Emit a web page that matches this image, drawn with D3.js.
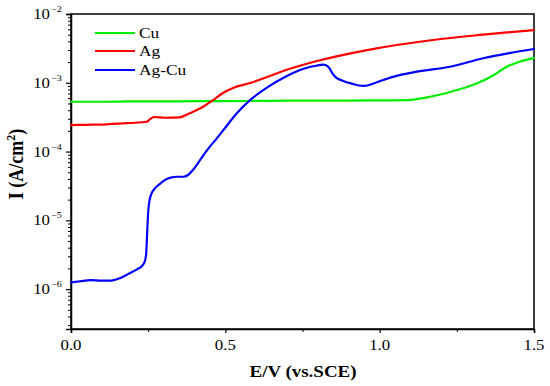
<!DOCTYPE html>
<html>
<head>
<meta charset="utf-8">
<script src="https://cdn.jsdelivr.net/npm/d3@7"></script>
<style>
body { margin: 0; background: #fff; }
svg { display: block; }
text { font-family: "Liberation Serif", "Times New Roman", serif; fill: #000; }
</style>
</head>
<body>
<svg id="chart" width="550" height="386"></svg>
<script>
// ---- data ----
const seriesNames = ["Cu", "Ag", "Ag-Cu"];
const seriesColors = ["#00ee00", "#ff0000", "#0000ff"];

const cuE = [0.0, 0.1, 0.2, 0.3, 0.4, 0.5, 0.6, 0.7, 0.8, 0.9, 1.0, 1.09, 1.15, 1.2, 1.24, 1.28, 1.32, 1.37, 1.41, 1.45, 1.5];
const cuI = [5.3e-4, 5.3e-4, 5.35e-4, 5.35e-4, 5.4e-4, 5.4e-4, 5.45e-4, 5.5e-4, 5.5e-4, 5.5e-4, 5.55e-4, 5.6e-4, 6.1e-4, 6.8e-4, 7.6e-4, 8.6e-4, 1.0e-3, 1.3e-3, 1.7e-3, 2.0e-3, 2.3e-3];

const agE = [0.0, 0.05, 0.1, 0.19, 0.246, 0.256, 0.269, 0.305, 0.353, 0.386, 0.428, 0.46, 0.492, 0.525, 0.58, 0.635, 0.687, 0.797, 0.959, 1.173, 1.335, 1.5];
const agI = [2.43e-4, 2.45e-4, 2.47e-4, 2.6e-4, 2.71e-4, 2.97e-4, 3.18e-4, 3.1e-4, 3.15e-4, 3.63e-4, 4.49e-4, 5.61e-4, 7.1e-4, 8.4e-4, 9.9e-4, 1.21e-3, 1.48e-3, 2.07e-3, 2.99e-3, 4.19e-3, 5.0e-3, 5.85e-3];

const agcuE = [0.0, 0.03, 0.062, 0.1, 0.13, 0.16, 0.19, 0.215, 0.233, 0.24, 0.244, 0.247, 0.25, 0.254, 0.26, 0.27, 0.285, 0.3, 0.32, 0.345, 0.365, 0.38, 0.395, 0.418, 0.441, 0.473, 0.499, 0.538, 0.58, 0.635, 0.687, 0.742, 0.77, 0.797, 0.816, 0.826, 0.836, 0.848, 0.86, 0.88, 0.91, 0.946, 0.97, 1.0, 1.043, 1.121, 1.228, 1.335, 1.42, 1.5];
const agcuI = [1.25e-6, 1.3e-6, 1.35e-6, 1.33e-6, 1.33e-6, 1.45e-6, 1.7e-6, 1.95e-6, 2.25e-6, 2.6e-6, 3.5e-6, 7e-6, 1.3e-5, 1.9e-5, 2.4e-5, 2.85e-5, 3.3e-5, 3.75e-5, 4.15e-5, 4.3e-5, 4.3e-5, 4.6e-5, 5.4e-5, 7.5e-5, 1.05e-4, 1.57e-4, 2.2e-4, 3.63e-4, 5.6e-4, 8.5e-4, 1.17e-3, 1.53e-3, 1.68e-3, 1.78e-3, 1.84e-3, 1.8e-3, 1.65e-3, 1.35e-3, 1.18e-3, 1.07e-3, 9.7e-4, 9.0e-4, 9.4e-4, 1.05e-3, 1.22e-3, 1.45e-3, 1.71e-3, 2.27e-3, 2.7e-3, 3.1e-3];

const xTickValues = [0.0, 0.5, 1.0, 1.5];
const xMinorTicks = [0.25, 0.75, 1.25];
const yDecades = [-6, -5, -4, -3, -2];
const xLabel = "E/V (vs.SCE)";

// ---- layout ----
const svg = d3.select("#chart");
const L = 71, R = 534, T = 14, B = 329;
const SX = 1.12; // horizontal stretch of text in the reference
const x = d3.scaleLinear().domain([0, 1.5]).range([L, R]);
const y = d3.scaleLog().domain([Math.pow(10, -6.58), 1e-2]).range([B, T]);

function stext(px, py, str, size, anchor, weight) {
  return svg.append("text")
    .attr("transform", `translate(${px},${py}) scale(${SX},1)`)
    .attr("text-anchor", anchor || "start")
    .style("font-size", size + "px")
    .style("font-weight", weight || "normal")
    .text(str);
}

// frame
svg.append("rect").attr("x", L).attr("y", T).attr("width", R - L).attr("height", B - T)
  .attr("fill", "none").attr("stroke", "#000").attr("stroke-width", 1.5);

// x axis
const gx = svg.append("g").attr("transform", `translate(0,${B})`)
  .call(d3.axisBottom(x).tickValues(xTickValues).tickFormat("").tickSize(4));
gx.select(".domain").attr("stroke-width", 1.5);
gx.selectAll(".tick line").attr("stroke-width", 1.2);
const gxm = svg.append("g").attr("transform", `translate(0,${B})`)
  .call(d3.axisBottom(x).tickValues(xMinorTicks).tickFormat("").tickSize(3));
gxm.select(".domain").remove();
xTickValues.forEach(v => stext(x(v), 350, d3.format(".1f")(v), 15, "middle"));

// y axis major
const yMajor = yDecades.map(p => Math.pow(10, p));
const gy = svg.append("g").attr("transform", `translate(${L},0)`)
  .call(d3.axisLeft(y).tickValues(yMajor).tickFormat("").tickSize(5));
gy.select(".domain").attr("stroke-width", 1.5);
gy.selectAll(".tick line").attr("stroke-width", 1.2);
// y minor
const yMinor = [];
for (let p = -7; p <= -3; p++) for (let k = 2; k <= 9; k++) {
  const v = k * Math.pow(10, p);
  if (v >= y.domain()[0] && v <= y.domain()[1]) yMinor.push(v);
}
const gym = svg.append("g").attr("transform", `translate(${L},0)`)
  .call(d3.axisLeft(y).tickValues(yMinor).tickFormat("").tickSize(3));
gym.select(".domain").remove();

// y tick labels 10^n
yDecades.forEach(p => {
  const yy = y(Math.pow(10, p));
  stext(50, yy + 5, "10", 15, "end");
  stext(51, yy - 2, "\u2212" + Math.abs(p), 9, "start");
});

// axis titles
svg.append("text").attr("x", 303).attr("y", 377).attr("text-anchor", "middle")
  .attr("textLength", 107).attr("lengthAdjust", "spacingAndGlyphs")
  .style("font-size", "17px").style("font-weight", "bold").text(xLabel);
const yt = svg.append("text").attr("transform", `translate(23,164) scale(${SX},1) rotate(-90)`)
  .attr("text-anchor", "middle").style("font-size", "18px").style("font-weight", "bold");
yt.append("tspan").text("I (A/cm");
yt.append("tspan").attr("dy", -7).style("font-size", "12px").text("2");
yt.append("tspan").attr("dy", 7).text(")");

// lines
const line = d3.line().x(d => x(d[0])).y(d => y(d[1])).curve(d3.curveMonotoneX);
const datasets = [
  d3.zip(cuE, cuI),
  d3.zip(agE, agI),
  d3.zip(agcuE, agcuI)
];
const plot = svg.append("g");
datasets.forEach((ds, i) => {
  plot.append("path").datum(ds).attr("d", line).attr("fill", "none")
    .attr("stroke", seriesColors[i]).attr("stroke-width", 2.2)
    .attr("stroke-linejoin", "round").attr("stroke-linecap", "round");
});

// legend
const legY = [33, 51, 70];
seriesNames.forEach((n, i) => {
  svg.append("line").attr("x1", 95).attr("x2", 135).attr("y1", legY[i]).attr("y2", legY[i])
    .attr("stroke", seriesColors[i]).attr("stroke-width", 2.2);
  stext(139, legY[i] + 5, n, 15.5, "start");
});
</script>
</body>
</html>
